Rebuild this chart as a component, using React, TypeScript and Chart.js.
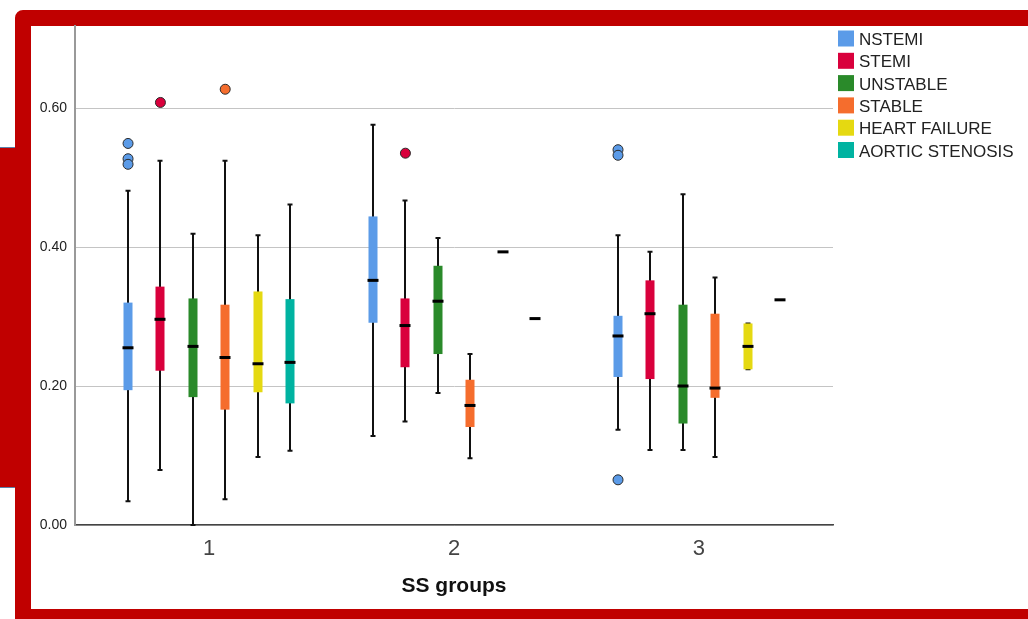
import React, { useEffect, useRef } from 'react';
import { Chart, registerables } from 'chart.js';

Chart.register(...registerables);

// ---- data ----
const groups = [1, 2, 3];
const diagnoses = ['NSTEMI', 'STEMI', 'UNSTABLE', 'STABLE', 'HEART FAILURE', 'AORTIC STENOSIS'];
const diagnosisColors = ['#5B9BE8', '#D9003C', '#2A8A2A', '#F56D2D', '#E5D911', '#00B3A1'];

// [lower whisker, Q1, median, Q3, upper whisker] for SS groups 1, 2, 3
const nstemiStats = [
  [0.034, 0.194, 0.255, 0.320, 0.481],
  [0.128, 0.291, 0.352, 0.444, 0.576],
  [0.137, 0.213, 0.272, 0.301, 0.417],
];
const stemiStats = [
  [0.079, 0.222, 0.296, 0.343, 0.524],
  [0.149, 0.227, 0.287, 0.326, 0.467],
  [0.108, 0.210, 0.304, 0.352, 0.393],
];
const unstableStats = [
  [0.000, 0.184, 0.257, 0.326, 0.419],
  [0.190, 0.246, 0.322, 0.373, 0.413],
  [0.108, 0.146, 0.200, 0.317, 0.476],
];
const stableStats = [
  [0.037, 0.166, 0.241, 0.317, 0.524],
  [0.096, 0.141, 0.172, 0.209, 0.246],
  [0.098, 0.183, 0.197, 0.304, 0.356],
];
const heartFailureStats = [
  [0.098, 0.191, 0.232, 0.336, 0.417],
  [0.393, 0.393, 0.393, 0.393, 0.393],
  [0.224, 0.224, 0.257, 0.290, 0.290],
];
const aorticStenosisStats = [
  [0.107, 0.175, 0.234, 0.325, 0.461],
  [0.297, 0.297, 0.297, 0.297, 0.297],
  [0.324, 0.324, 0.324, 0.324, 0.324],
];

// outliers: [SS group, value]
const nstemiOutliers = [[1, 0.549], [1, 0.527], [1, 0.519], [3, 0.540], [3, 0.532], [3, 0.065]];
const stemiOutliers = [[1, 0.608], [2, 0.535]];
const unstableOutliers: number[][] = [];
const stableOutliers = [[1, 0.627]];
const heartFailureOutliers: number[][] = [];
const aorticStenosisOutliers: number[][] = [];

const yTickValues = [0, 0.2, 0.4, 0.6];
const xAxisTitle = 'SS groups';

const statsBySeries = [nstemiStats, stemiStats, unstableStats, stableStats, heartFailureStats, aorticStenosisStats];
const outliersBySeries = [nstemiOutliers, stemiOutliers, unstableOutliers, stableOutliers, heartFailureOutliers, aorticStenosisOutliers];

// ---- layout constants ----
const SLOT = 0.1322; // spacing between boxes in x-units
const slotX = (g: number, si: number) => g + (si - 2.5) * SLOT;
const FONT = "'Liberation Sans', Arial, sans-serif";

const boxPlugin = {
  id: 'spssBoxes',
  beforeDatasetsDraw(chart: any) {
    const { ctx } = chart;
    const x = chart.scales.x;
    const y = chart.scales.y;
    ctx.save();
    statsBySeries.forEach((stats, si) => {
      stats.forEach((s, gi) => {
        if (!s) return;
        const [lo, q1, med, q3, hi] = s;
        const cx = Math.round(x.getPixelForValue(slotX(groups[gi], si)));
        const single = lo === hi;
        if (!single) {
          const pHi = y.getPixelForValue(hi);
          const pLo = y.getPixelForValue(lo);
          ctx.strokeStyle = '#111';
          ctx.lineWidth = 2;
          ctx.beginPath();
          ctx.moveTo(cx, pHi);
          ctx.lineTo(cx, pLo);
          ctx.stroke();
          ctx.beginPath();
          ctx.moveTo(cx - 2.5, pHi);
          ctx.lineTo(cx + 2.5, pHi);
          ctx.moveTo(cx - 2.5, pLo);
          ctx.lineTo(cx + 2.5, pLo);
          ctx.stroke();
          const top = y.getPixelForValue(q3);
          const bot = y.getPixelForValue(q1);
          ctx.fillStyle = diagnosisColors[si];
          ctx.fillRect(cx - 4.5, top, 9, bot - top);
        }
        ctx.fillStyle = '#000';
        ctx.fillRect(cx - 5.5, y.getPixelForValue(med) - 1.5, 11, 3);
      });
    });
    ctx.restore();
  },
  afterDraw(chart: any) {
    const { ctx } = chart;
    ctx.save();
    ctx.font = `17px ${FONT}`;
    ctx.textBaseline = 'middle';
    ctx.textAlign = 'left';
    diagnoses.forEach((name, i) => {
      const cy = 40 + i * 22.3;
      ctx.fillStyle = diagnosisColors[i];
      ctx.fillRect(838, cy - 9.5, 16, 16);
      ctx.fillStyle = '#222';
      ctx.fillText(name, 859, cy + 0.5);
    });
    ctx.restore();
  },
};

export default function App() {
  const canvasRef = useRef<HTMLCanvasElement | null>(null);

  useEffect(() => {
    const canvas = canvasRef.current;
    if (!canvas) return;
    const chart = new Chart(canvas, {
      type: 'scatter',
      data: {
        datasets: diagnoses.map((name, i) => ({
          label: name,
          data: outliersBySeries[i].map(([g, v]) => ({ x: slotX(g, i), y: v })),
          backgroundColor: diagnosisColors[i],
          borderColor: '#2a2a2a',
          borderWidth: 1,
          pointRadius: 5,
          pointHoverRadius: 5,
        })),
      },
      options: {
        responsive: false,
        animation: false,
        devicePixelRatio: 1,
        layout: { padding: { top: 26, right: 195, left: 0, bottom: 0 } },
        plugins: { legend: { display: false }, tooltip: { enabled: false } },
        scales: {
          x: {
            type: 'linear',
            min: 0.453,
            max: 3.547,
            afterBuildTicks: (s: any) => {
              s.ticks = groups.map((v) => ({ value: v }));
            },
            afterFit: (s: any) => {
              s.height = 94;
            },
            grid: { drawOnChartArea: false, drawTicks: false },
            border: { color: '#444', width: 1.5 },
            ticks: {
              padding: 11,
              color: '#444',
              font: { family: FONT, size: 22 },
              callback: (v: any) => String(v),
            },
            title: {
              display: true,
              text: xAxisTitle,
              color: '#111',
              font: { family: FONT, size: 21, weight: 'bold' },
              padding: { top: 0, bottom: 20 },
            },
          },
          y: {
            min: 0,
            max: 0.718,
            afterBuildTicks: (s: any) => {
              s.ticks = yTickValues.map((v) => ({ value: v }));
            },
            afterFit: (s: any) => {
              s.width = 75;
            },
            grid: { color: '#c4c4c4', lineWidth: 1, drawTicks: false },
            border: { color: '#999', width: 2 },
            ticks: {
              padding: 8,
              color: '#222',
              font: { family: FONT, size: 14 },
              callback: (v: any) => Number(v).toFixed(2),
            },
          },
        },
      } as any,
      plugins: [boxPlugin],
    });
    return () => chart.destroy();
  }, []);

  const red = '#C00000';
  return (
    <div style={{ position: 'fixed', left: 0, top: 0, width: 1028, height: 619, overflow: 'hidden', background: '#fff' }}>
      <div
        style={{
          position: 'absolute',
          left: 0,
          top: 147,
          width: 16,
          height: 341,
          background: red,
          borderTop: '1px solid #5b7fa8',
          borderBottom: '1px solid #5b7fa8',
          boxSizing: 'border-box',
        }}
      />
      <div
        style={{
          position: 'absolute',
          left: 15,
          top: 10,
          width: 1100,
          height: 615,
          border: `16px solid ${red}`,
          borderTopLeftRadius: 8,
          boxSizing: 'border-box',
          background: '#fff',
        }}
      />
      <canvas ref={canvasRef} width={1028} height={619} style={{ position: 'absolute', left: 0, top: 0, width: 1028, height: 619 }} />
    </div>
  );
}
